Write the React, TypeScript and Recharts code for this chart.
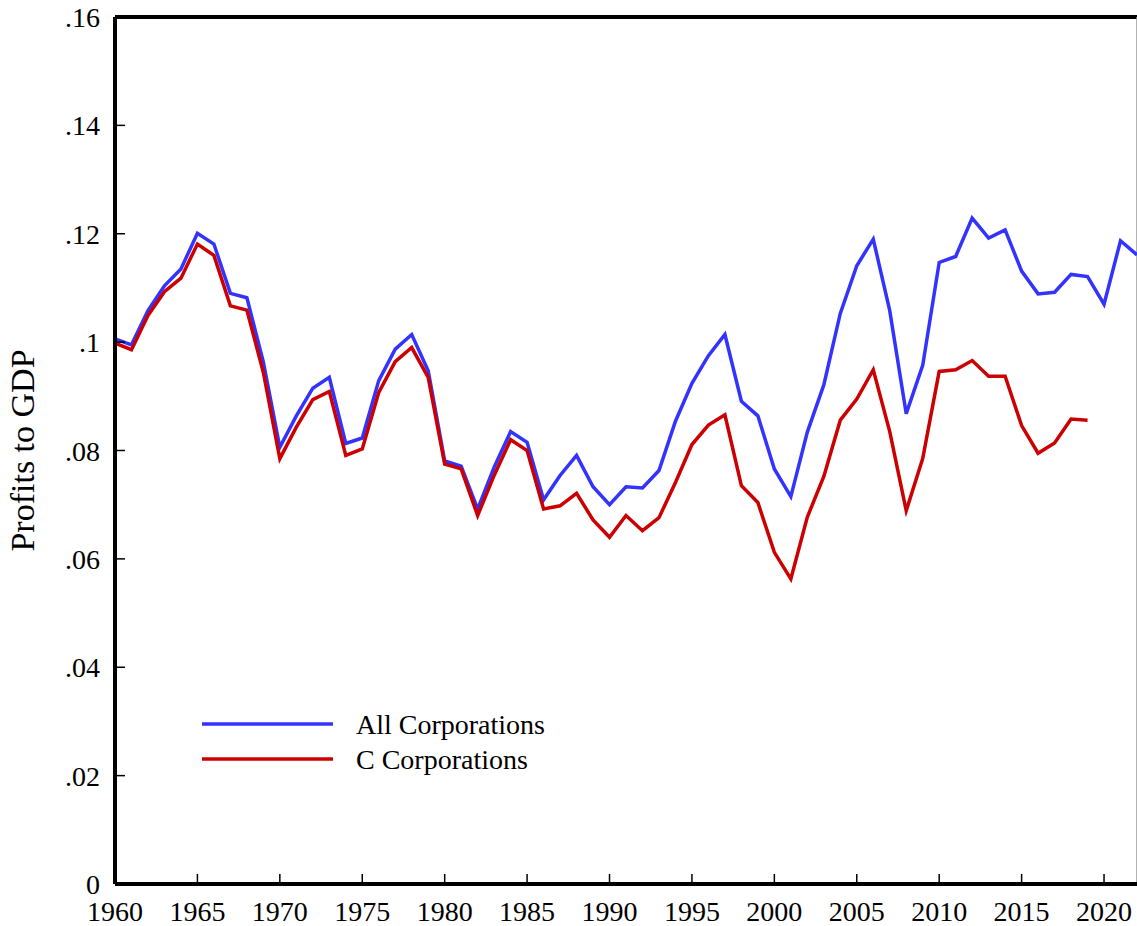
import React from "react";
import { LineChart, Line, XAxis, YAxis, ReferenceLine } from "recharts";

const years: number[] = [
  1960, 1961, 1962, 1963, 1964, 1965, 1966, 1967, 1968, 1969,
  1970, 1971, 1972, 1973, 1974, 1975, 1976, 1977, 1978, 1979,
  1980, 1981, 1982, 1983, 1984, 1985, 1986, 1987, 1988, 1989,
  1990, 1991, 1992, 1993, 1994, 1995, 1996, 1997, 1998, 1999,
  2000, 2001, 2002, 2003, 2004, 2005, 2006, 2007, 2008, 2009,
  2010, 2011, 2012, 2013, 2014, 2015, 2016, 2017, 2018, 2019,
  2020, 2021, 2022,
];

const allCorporations: number[] = [
  0.1006, 0.0995, 0.1058, 0.1104, 0.1135, 0.1201, 0.1181, 0.109, 0.1082, 0.0963,
  0.0806, 0.0864, 0.0915, 0.0935, 0.0813, 0.0823, 0.0929, 0.0987, 0.1014, 0.0947,
  0.0781, 0.0771, 0.0692, 0.0769, 0.0835, 0.0815, 0.0709, 0.0754, 0.0791, 0.0733,
  0.07, 0.0733, 0.0731, 0.0763, 0.0854, 0.0924, 0.0975, 0.1014, 0.0891, 0.0864,
  0.0766, 0.0715, 0.0834, 0.0921, 0.1053, 0.1141, 0.119, 0.1058, 0.0868, 0.0957,
  0.1147, 0.1158, 0.1229, 0.1192, 0.1207, 0.1131, 0.1089, 0.1092, 0.1125, 0.1121,
  0.107, 0.1187, 0.1161,
];

const cCorporations: (number | null)[] = [
  0.0998, 0.0986, 0.1049, 0.1093, 0.1118, 0.1181, 0.116, 0.1067, 0.1059, 0.0944,
  0.0785, 0.0843, 0.0894, 0.0909, 0.0791, 0.0803, 0.0907, 0.0964, 0.099, 0.0935,
  0.0775, 0.0766, 0.068, 0.0754, 0.082, 0.08, 0.0692, 0.0698, 0.0721, 0.0672,
  0.064, 0.068, 0.0652, 0.0676, 0.0741, 0.0811, 0.0847, 0.0866, 0.0735, 0.0704,
  0.0612, 0.0563, 0.0677, 0.0752, 0.0856, 0.0895, 0.0949, 0.0835, 0.0689, 0.0785,
  0.0946, 0.0949, 0.0966, 0.0937, 0.0937, 0.0846, 0.0795, 0.0814, 0.0858, 0.0856,
  null, null, null,
];

const xTicks: number[] = [1960, 1965, 1970, 1975, 1980, 1985, 1990, 1995, 2000, 2005, 2010, 2015, 2020];
const yTicks: number[] = [0, 0.02, 0.04, 0.06, 0.08, 0.1, 0.12, 0.14, 0.16];
const yTickLabels: string[] = ["0", ".02", ".04", ".06", ".08", ".1", ".12", ".14", ".16"];

const seriesNames = { all: "All Corporations", c: "C Corporations" };
const yTitle = "Profits to GDP";

const data = years.map((y, i) => ({
  year: y,
  all: allCorporations[i],
  c: cCorporations[i],
}));

const FONT = '"Liberation Serif", "Times New Roman", serif';
const BLUE = "#3333FF";
const RED = "#CC0000";

const YTick = (props: any) => {
  const { x, y, payload } = props;
  const idx = yTicks.indexOf(payload.value);
  const label = idx >= 0 ? yTickLabels[idx] : String(payload.value);
  return (
    <g>
      <line x1={x} x2={x + 10} y1={y} y2={y} stroke="#000" strokeWidth={1.5} />
      <text x={x - 15} y={y + 10} textAnchor="end" fontFamily={FONT} fontSize={28} fill="#000">
        {label}
      </text>
    </g>
  );
};

const XTick = (props: any) => {
  const { x, y, payload } = props;
  return (
    <g>
      <line x1={x} x2={x} y1={y} y2={y - 10} stroke="#000" strokeWidth={1.5} />
      <text x={x} y={y + 37} textAnchor="middle" fontFamily={FONT} fontSize={28} fill="#000">
        {payload.value}
      </text>
    </g>
  );
};

const YTitle = (props: any) => {
  const vb = props.viewBox || {};
  const cy = (vb.y || 0) + (vb.height || 0) / 2;
  const cx = 34;
  return (
    <text
      x={cx}
      y={cy}
      transform={`rotate(-90, ${cx}, ${cy})`}
      textAnchor="middle"
      fontFamily={FONT}
      fontSize={34}
      fill="#000"
    >
      {yTitle}
    </text>
  );
};

const LegendBox = () => {
  const items = [
    { name: seriesNames.all, color: BLUE },
    { name: seriesNames.c, color: RED },
  ];
  return (
    <svg
      width={380}
      height={80}
      style={{ position: "absolute", left: 200, top: 710, display: "block", overflow: "visible" }}
    >
      {items.map((it, i) => (
        <g key={it.name}>
          <line x1={2} x2={133} y1={14 + i * 35} y2={14 + i * 35} stroke={it.color} strokeWidth={3.5} />
          <text x={156} y={24 + i * 35} fontFamily={FONT} fontSize={28} fill="#000">
            {it.name}
          </text>
        </g>
      ))}
    </svg>
  );
};

export default function App() {
  return (
    <div style={{ position: "absolute", left: 0, top: 0, width: 1137, height: 926, background: "#fff" }}>
      <LineChart
        width={1137}
        height={926}
        data={data}
        margin={{ top: 17, right: 0, bottom: 0, left: 0 }}
      >
        <XAxis
          dataKey="year"
          type="number"
          domain={[1960, 2022]}
          ticks={xTicks}
          allowDataOverflow
          height={42}
          axisLine={{ stroke: "#000", strokeWidth: 4 }}
          tickLine={false}
          tickSize={0}
          tickMargin={0}
          tick={<XTick />}
          interval={0}
        />
        <YAxis
          type="number"
          domain={[0, 0.16]}
          ticks={yTicks}
          allowDataOverflow
          width={115}
          axisLine={{ stroke: "#000", strokeWidth: 4 }}
          tickLine={false}
          tickSize={0}
          tickMargin={0}
          tick={<YTick />}
          interval={0}
          label={<YTitle />}
        />
        <ReferenceLine y={0.16} stroke="#000" strokeWidth={4} ifOverflow="visible" />
        <ReferenceLine x={2022} stroke="#999" strokeWidth={1.5} ifOverflow="visible" />
        <Line
          type="linear"
          dataKey="all"
          name={seriesNames.all}
          stroke={BLUE}
          strokeWidth={3.5}
          dot={false}
          isAnimationActive={false}
        />
        <Line
          type="linear"
          dataKey="c"
          name={seriesNames.c}
          stroke={RED}
          strokeWidth={3.5}
          dot={false}
          isAnimationActive={false}
        />
      </LineChart>
      <LegendBox />
    </div>
  );
}
